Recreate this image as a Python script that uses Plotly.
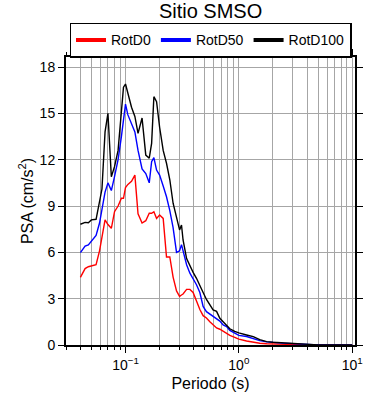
import plotly.graph_objects as go

periods = [0.04, 0.044, 0.047, 0.05, 0.055, 0.059, 0.062, 0.066, 0.07, 0.075,
           0.08, 0.086, 0.092, 0.096, 0.1, 0.105, 0.113, 0.121, 0.129, 0.14,
           0.151, 0.162, 0.17, 0.178, 0.188, 0.2, 0.215, 0.23, 0.246, 0.263,
           0.282, 0.3, 0.312, 0.322, 0.346, 0.37, 0.395, 0.423, 0.453, 0.484,
           0.518, 0.555, 0.593, 0.636, 0.68, 0.727, 0.78, 0.833, 0.92, 1.0,
           1.17, 1.34, 1.53, 1.76, 2.0, 2.45, 3.0, 3.45, 4.0, 5.0,
           6.0, 8.0, 10.0]

rotd0 = [4.38, 4.95, 5.07, 5.12, 5.2, 6.1, 7.0, 8.1, 7.8, 7.56,
         8.63, 9.0, 9.5, 9.5, 10.2, 10.4, 10.6, 11.0, 8.5, 7.9,
         8.05, 8.53, 8.53, 8.63, 8.2, 8.42, 8.2, 5.7, 5.7, 4.4,
         3.5, 3.15, 3.24, 3.3, 3.6, 3.6, 3.4, 2.8, 2.3, 1.9,
         1.75, 1.51, 1.3, 1.1, 1.02, 0.9, 0.78, 0.62, 0.5, 0.38,
         0.26, 0.17, 0.11, 0.08, 0.06, 0.04, 0.03, 0.02, 0.01, 0.005,
         0.0, 0.0, 0.0]

rotd50 = [5.98, 6.4, 6.48, 6.72, 7.1, 7.9, 8.9, 9.9, 10.5, 10.0,
          10.9, 12.0, 13.5, 14.6, 15.6, 14.9, 14.3, 13.8, 12.6, 11.4,
          11.1, 10.5, 11.87, 12.13, 11.33, 11.0, 10.3, 9.6, 8.7, 7.6,
          6.0, 6.1, 6.5, 6.04, 5.2, 4.65, 4.3, 3.9, 3.4, 2.5,
          2.16, 2.0, 1.85, 1.73, 1.55, 1.3, 1.19, 0.95, 0.75, 0.62,
          0.55, 0.4, 0.28, 0.2, 0.15, 0.12, 0.09, 0.06, 0.03, 0.01,
          0.005, 0.0, 0.0]

rotd100 = [7.82, 7.94, 7.92, 8.1, 8.14, 9.2, 10.1, 13.8, 15.0, 10.9,
           11.55, 12.6, 15.0, 16.7, 16.9, 16.3, 15.4, 14.8, 13.7, 14.7,
           12.3, 12.1, 13.06, 16.08, 15.76, 14.1, 12.6, 11.77, 10.7, 9.18,
           8.3, 7.45, 7.77, 6.8, 5.6, 5.1, 4.7, 4.32, 3.8, 3.4,
           2.95, 2.6, 2.27, 2.18, 1.73, 1.5, 1.28, 1.05, 0.88, 0.78,
           0.65, 0.54, 0.35, 0.22, 0.18, 0.14, 0.09, 0.06, 0.03, 0.01,
           0.005, 0.0, 0.0]

series_names = ["RotD0", "RotD50", "RotD100"]
series_colors = ["#ff0000", "#0000ff", "#000000"]

x_major_vals = [0.1, 1, 10]
x_major_text = ["10<sup>\u22121</sup>", "10<sup>0</sup>", "10<sup>1</sup>"]
x_minor_vals = [0.03, 0.04, 0.05, 0.06, 0.07, 0.08, 0.09,
                0.2, 0.3, 0.4, 0.5, 0.6, 0.7, 0.8, 0.9,
                2, 3, 4, 5, 6, 7, 8, 9]
y_tick_vals = [0, 3, 6, 9, 12, 15, 18]

fig = go.Figure()
for name, vals, col in zip(series_names, [rotd0, rotd50, rotd100], series_colors):
    fig.add_trace(go.Scatter(x=periods, y=vals, mode="lines", name=name,
                             line=dict(color=col, width=1.4), showlegend=False))
for name, col in zip(series_names, series_colors):
    fig.add_trace(go.Scatter(x=[None], y=[None], mode="lines", name=name,
                             line=dict(color=col, width=4), showlegend=True))

grid_col = "#a6a6a6"
fig.update_layout(
    width=390, height=400,
    margin=dict(l=66, r=35, t=57, b=55, autoexpand=False),
    paper_bgcolor="white", plot_bgcolor="white",
    font=dict(family="Liberation Sans, Arial, sans-serif", size=14, color="black"),
    title=dict(text="Sitio SMSO", x=0.54, xanchor="center", y=0.973, yanchor="middle",
               font=dict(size=20)),
    legend=dict(orientation="h", x=0.5, xanchor="center", y=0.997, yanchor="bottom",
                bordercolor="black", borderwidth=1.5, bgcolor="white",
                font=dict(size=14), itemwidth=30, tracegroupgap=0),
    showlegend=True,
)
fig.update_xaxes(
    type="log", range=[-1.525, 1.025], automargin=False,
    tickmode="array", tickvals=x_major_vals, ticktext=x_major_text,
    ticks="outside", ticklen=6, tickwidth=1, tickcolor="black",
    showline=True, linecolor="black", linewidth=2, mirror="allticks",
    showgrid=True, gridcolor=grid_col, gridwidth=1,
    minor=dict(tickmode="array", tickvals=x_minor_vals, ticks="outside", ticklen=3,
               tickcolor="black", showgrid=True, gridcolor=grid_col, gridwidth=1),
    tickfont=dict(size=14),
    title=dict(text="Periodo (s)", font=dict(size=16), standoff=6),
    zeroline=False,
)
fig.update_yaxes(
    range=[0, 18.65], automargin=False,
    tickmode="array", tickvals=y_tick_vals,
    ticks="outside", ticklen=6, tickwidth=1, tickcolor="black",
    showline=True, linecolor="black", linewidth=2, mirror="allticks",
    showgrid=True, gridcolor=grid_col, gridwidth=1,
    tickfont=dict(size=14),
    title=dict(text="PSA (cm/s<sup>2</sup>)", font=dict(size=16), standoff=2),
    zeroline=False,
)

fig.write_html("out.html", config={"displayModeBar": False},
               post_script="document.body.style.margin='0px';")
